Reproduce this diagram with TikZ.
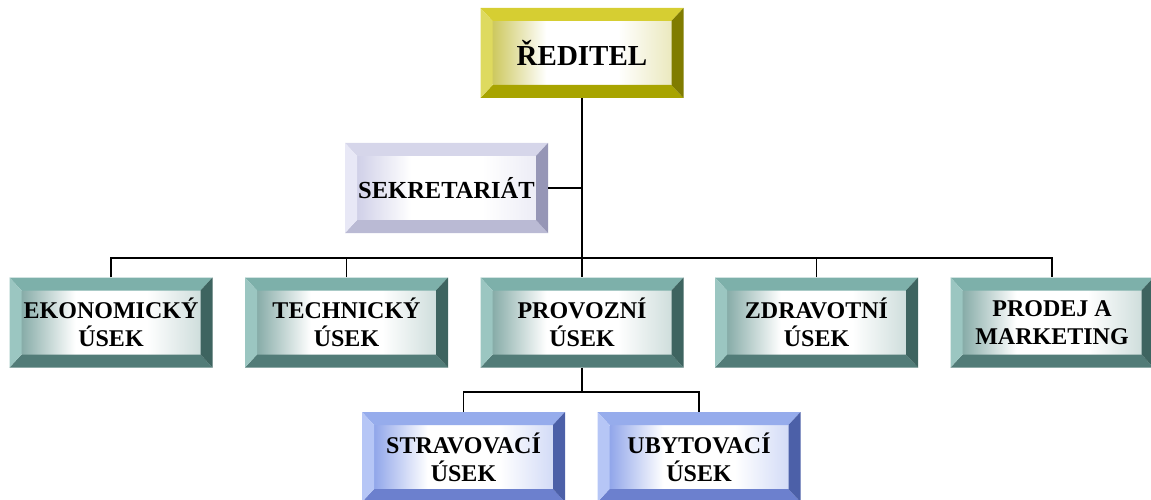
\documentclass[tikz,border=0pt]{standalone}
\usepackage{fontspec}
\setmainfont{Liberation Serif}
\definecolor{yT}{RGB}{214,206,50}
\definecolor{yL}{RGB}{222,218,95}
\definecolor{yR}{RGB}{128,124,0}
\definecolor{yB}{RGB}{168,164,0}
\definecolor{yF}{RGB}{205,200,95}
\definecolor{gT}{RGB}{125,176,170}
\definecolor{gL}{RGB}{155,198,193}
\definecolor{gR}{RGB}{62,100,96}
\definecolor{gB}{RGB}{82,124,120}
\definecolor{gF}{RGB}{135,172,168}
\definecolor{sT}{RGB}{214,214,234}
\definecolor{sL}{RGB}{232,232,246}
\definecolor{sR}{RGB}{150,150,182}
\definecolor{sB}{RGB}{186,186,212}
\definecolor{sF}{RGB}{208,208,232}
\definecolor{bT}{RGB}{150,172,236}
\definecolor{bL}{RGB}{182,198,246}
\definecolor{bR}{RGB}{76,96,168}
\definecolor{bB}{RGB}{108,128,206}
\definecolor{bF}{RGB}{145,166,234}
\colorlet{faceL}{gF}
\colorlet{faceR}{gF}
\pgfdeclarehorizontalshading[faceL,faceR]{facesh}{100bp}{color(0bp)=(faceL); color(25bp)=(faceL); color(40bp)=(white); color(60bp)=(white); color(75bp)=(faceR); color(100bp)=(faceR)}
\tikzset{
  boxtext/.style={rectangle, inner sep=0pt, minimum width=203pt, minimum height=90pt, align=center},
  bigfont/.style={font=\fontsize{29}{32}\selectfont\bfseries},
  midfont/.style={font=\fontsize{24.5}{28}\selectfont\bfseries},
  smallfont/.style={font=\fontsize{24}{28}\selectfont\bfseries},
  conn/.style={draw=black, line width=1.8pt},
}
\newcommand{\bevelbox}[6]{%
  \begin{scope}[shift={(#2,#3)}]
    \colorlet{faceL}{#5F}\colorlet{faceR}{#5F!40!white}%
    \shade[shading=facesh] (-89.5,-32) rectangle (89.5,32);
    \fill[#5T] (-101.5,45) -- (101.5,45) -- (89.5,32) -- (-89.5,32) -- cycle;
    \fill[#5B] (-101.5,-45) -- (101.5,-45) -- (89.5,-32) -- (-89.5,-32) -- cycle;
    \fill[#5L] (-101.5,45) -- (-89.5,32) -- (-89.5,-32) -- (-101.5,-45) -- cycle;
    \fill[#5R] (101.5,45) -- (101.5,-45) -- (89.5,-32) -- (89.5,32) -- cycle;
  \end{scope}
  \node[boxtext,#6] (#1) at (#2,#3) {#4};
}
\begin{document}
\begin{tikzpicture}[x=1pt,y=1pt]
\useasboundingbox (0,0) rectangle (1151,499);
\bevelbox{red}{582}{446}{ŘEDITEL}{y}{bigfont}
\bevelbox{sek}{446.5}{311}{SEKRETARIÁT}{s}{midfont}
\bevelbox{eko}{111}{176.5}{EKONOMICKÝ\\ÚSEK}{g}{smallfont}
\bevelbox{tech}{346.5}{176.5}{TECHNICKÝ\\ÚSEK}{g}{smallfont}
\bevelbox{prov}{582}{176.5}{PROVOZNÍ\\ÚSEK}{g}{smallfont}
\bevelbox{zdr}{816.5}{176.5}{ZDRAVOTNÍ\\ÚSEK}{g}{smallfont}
\bevelbox{prod}{1052}{176.5}{PRODEJ A\\MARKETING}{g}{smallfont}
\bevelbox{strav}{463.5}{42}{STRAVOVACÍ\\ÚSEK}{b}{smallfont}
\bevelbox{ubyt}{699}{42}{UBYTOVACÍ\\ÚSEK}{b}{smallfont}
\draw[conn] (red.south) -- (prov.north);
\draw[conn] (sek.east) -- (sek.east -| red.south);
\draw[conn] (eko.north) -- ++(0,19.5) -| (prod.north);
\draw[conn] (tech.north) -- ++(0,19.5);
\draw[conn] (zdr.north) -- ++(0,19.5);
\draw[conn] (prov.south) -- ++(0,-24) coordinate (pb);
\draw[conn] (strav.north) |- (pb) -| (ubyt.north);
\end{tikzpicture}
\end{document}
